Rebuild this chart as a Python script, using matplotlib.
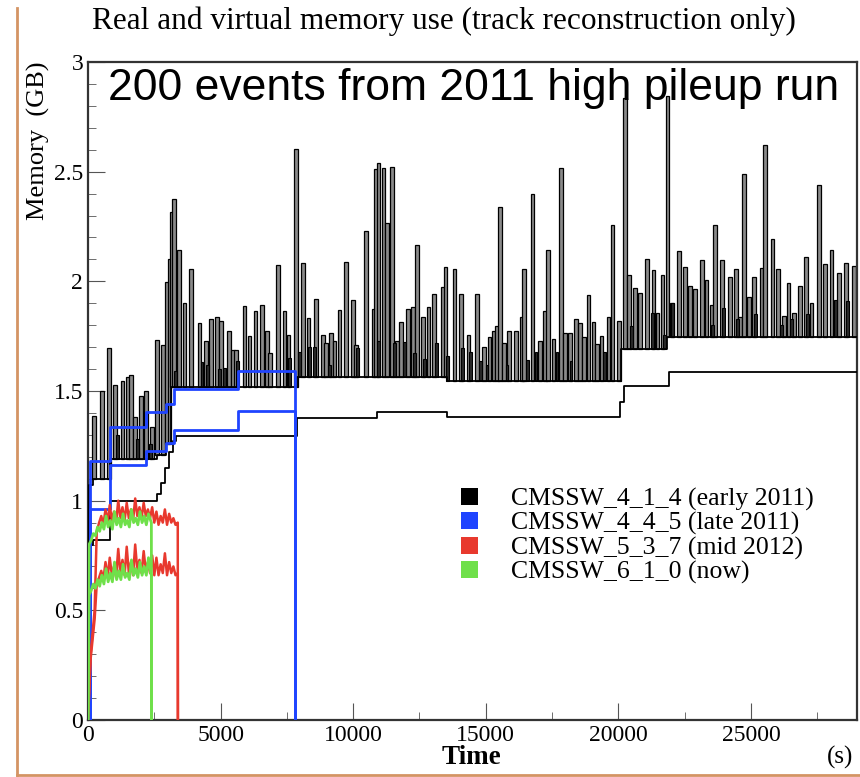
import numpy as np
import matplotlib
matplotlib.use('Agg')
import matplotlib.pyplot as plt
from matplotlib.patches import Patch
from matplotlib.lines import Line2D
from matplotlib.ticker import MultipleLocator

# CMSSW_4_1_4 virtual memory baseline (step, post) and real memory
virt_t = [0, 40, 200, 820, 2600, 2950, 3130, 7880, 13550, 20100, 21850, 29000]
virt_v = [0, 1.07, 1.10, 1.19, 1.21, 1.26, 1.52, 1.565, 1.545, 1.69, 1.745, 1.745]
real_t = [0, 40, 200, 820, 2600, 2750, 2900, 3050, 3200, 3330, 7880, 10900, 13550, 20050, 20200, 21900, 29000]
real_v = [0, 0.80, 0.82, 1.00, 1.03, 1.08, 1.15, 1.22, 1.27, 1.295, 1.375, 1.405, 1.38, 1.45, 1.525, 1.585, 1.585]

# memory spikes on top of the 4_1_4 virtual memory
spike_t = [226, 528, 780, 1006, 1296, 1508, 1609, 1760, 2012, 2200, 2426, 2615, 2826, 2992, 3078,
           3165, 3240, 3429, 3643, 3896, 4209, 4461, 4650, 4861, 5025, 5313, 5464, 5590, 5905, 6093,
           6319, 6571, 6745, 6872, 7160, 7411, 7562, 7838, 8101, 8316, 8605, 8855, 8982, 9170, 9296,
           9484, 9736, 9985, 10112, 10489, 10765, 10866, 10953, 11142, 11281, 11454, 11658, 11809,
           12058, 12246, 12412, 12623, 12837, 13037, 13376, 13478, 13817, 14069, 14344, 14672, 14947,
           15136, 15287, 15424, 15539, 15701, 15889, 16141, 16354, 16454, 16767, 17058, 17246, 17359,
           17559, 17837, 17987, 18176, 18402, 18564, 18715, 18877, 19066, 19193, 19367, 19630, 19782,
           20034, 20248, 20411, 20637, 20814, 21078, 21327, 21478, 21666, 21854, 22019, 22294, 22520,
           22697, 22886, 23150, 23323, 23512, 23640, 23904, 24216, 24430, 24593, 24744, 24932, 25121,
           25397, 25535, 25811, 26025, 26251, 26414, 26627, 26854, 27068, 27280, 27570, 27796, 28033,
           28324, 28576, 28889]
spike_v = [1.387, 1.499, 1.696, 1.529, 1.544, 1.564, 1.575, 1.38, 1.479, 1.499, 1.336, 1.734, 1.711, 1.996, 2.10,
           2.316, 2.377, 2.142, 1.902, 2.054, 1.81, 1.727, 1.829, 1.837, 1.818, 1.772, 1.689, 1.689, 1.887, 1.75,
           1.864, 1.891, 1.772, 1.673, 2.074, 1.864, 1.754, 2.602, 2.084, 1.833, 1.92, 1.754, 1.719, 1.765, 1.73,
           1.871, 2.089, 1.917, 1.709, 2.229, 1.874, 2.511, 2.541, 2.515, 2.267, 2.521, 1.727, 1.815,
           1.876, 1.882, 2.165, 1.838, 1.882, 1.94, 1.973, 2.066, 2.054, 1.94, 1.757, 1.943, 1.701,
           1.745, 1.775, 1.798, 2.339, 1.719, 1.773, 1.773, 1.838, 2.057, 2.396, 1.73, 1.867, 2.145,
           1.737, 2.518, 1.765, 1.765, 1.829, 1.811, 1.745, 1.937, 1.813, 1.715, 1.753, 1.837, 2.259,
           1.821, 2.838, 2.031, 1.97, 1.948, 2.10, 2.051, 1.856, 2.031, 2.846, 1.902, 2.138, 2.065,
           1.978, 1.966, 2.095, 2.008, 1.89, 2.259, 2.095, 2.019, 2.057, 1.837, 2.488, 1.928, 2.019,
           2.062, 2.622, 2.191, 2.054, 1.841, 1.993, 1.856, 1.981, 2.11, 1.902, 2.439, 2.077, 2.145,
           2.039, 2.084, 2.069]

# lower, darker shoulders between / under the big spikes
shoulder_t = [1100, 1850, 2350, 3300, 4300, 4500, 4950, 5140, 5650, 7610, 7960, 8350, 8550, 9100,
              10150, 10970, 11550, 11930, 12300, 12700, 13130, 13550, 14130, 14440, 14797, 15048,
              15802, 16580, 16894, 17686, 18213, 19470, 20480, 21290, 21730, 22050, 23550, 23950,
              24500, 25180, 26140, 26530, 27150, 28180, 28650]
shoulder_v = [1.30, 1.28, 1.26, 1.59, 1.63, 1.62, 1.60, 1.605, 1.637, 1.65, 1.68, 1.70, 1.70, 1.62,
              1.696, 1.727, 1.72, 1.725, 1.673, 1.648, 1.72, 1.658, 1.696, 1.68, 1.637, 1.62,
              1.62, 1.643, 1.68, 1.68, 1.637, 1.68, 1.795, 1.856, 1.757, 1.90, 1.80, 1.88,
              1.83, 1.85, 1.80, 1.83, 1.85, 1.917, 1.91]

# CMSSW_4_4_5
blue_t = [0, 60, 818, 2200, 2950, 3250, 5650, 7790, 7800]
blue_virt = [0, 1.18, 1.334, 1.404, 1.44, 1.509, 1.59, 0, 0]
blue_real = [0, 0.96, 1.163, 1.227, 1.263, 1.323, 1.41, 0, 0]

# CMSSW_5_3_7
red_t = [0, 100, 250, 330, 420, 500, 580, 660, 740, 820, 900, 980, 1060, 1140, 1220, 1300, 1380,
         1460, 1540, 1620, 1700, 1780, 1860, 1940, 2020, 2100, 2180, 2260, 2340, 2420, 2500, 2580,
         2660, 2740, 2820, 2900, 2980, 3060, 3140, 3220, 3300, 3385, 3390]
red_virt = [0, 0.30, 0.50, 0.86, 0.90, 0.93, 0.89, 0.96, 0.90, 0.98, 0.91, 0.95, 0.90, 1.00, 0.92, 0.97,
            0.91, 0.99, 0.92, 0.96, 0.91, 1.01, 0.93, 0.97, 0.92, 0.99, 0.93, 0.96, 0.92, 0.97, 0.90,
            0.95, 0.89, 0.93, 0.90, 0.96, 0.89, 0.94, 0.90, 0.92, 0.89, 0.90, 0]
red_real = [0, 0.28, 0.46, 0.62, 0.65, 0.68, 0.64, 0.72, 0.65, 0.74, 0.66, 0.70, 0.65, 0.78, 0.67, 0.73,
            0.66, 0.79, 0.67, 0.72, 0.66, 0.80, 0.68, 0.73, 0.67, 0.77, 0.68, 0.72, 0.67, 0.75, 0.66,
            0.74, 0.66, 0.71, 0.67, 0.76, 0.66, 0.72, 0.67, 0.70, 0.66, 0.67, 0]

# CMSSW_6_1_0
green_t = [0, 40, 120, 200, 280, 360, 440, 520, 600, 680, 760, 840, 920, 1000, 1080, 1160, 1240,
           1320, 1400, 1480, 1560, 1640, 1720, 1800, 1880, 1960, 2040, 2120, 2200, 2280, 2360, 2390, 2395]
green_virt = [0, 0.80, 0.82, 0.85, 0.84, 0.88, 0.86, 0.90, 0.87, 0.93, 0.88, 0.91, 0.87, 0.95, 0.89, 0.92,
              0.88, 0.94, 0.89, 0.91, 0.88, 0.96, 0.90, 0.92, 0.89, 0.95, 0.90, 0.93, 0.89, 0.94, 0.91, 0.90, 0]
green_real = [0, 0.57, 0.59, 0.62, 0.60, 0.64, 0.61, 0.66, 0.62, 0.69, 0.63, 0.67, 0.63, 0.72, 0.64, 0.68,
              0.64, 0.71, 0.65, 0.67, 0.64, 0.73, 0.66, 0.69, 0.65, 0.72, 0.66, 0.70, 0.66, 0.74, 0.67, 0.66, 0]

labels = ['CMSSW_4_1_4 (early 2011)', 'CMSSW_4_4_5 (late 2011)',
          'CMSSW_5_3_7 (mid 2012)', 'CMSSW_6_1_0 (now)']
colors = ['black', '#1f44ff', '#e8392e', '#6fe04a']

serif = 'Liberation Serif'

fig = plt.figure(figsize=(8.6, 7.77), dpi=100)
ax = fig.add_axes([88 / 860, 1 - 720 / 777, (857 - 88) / 860, (720 - 62) / 777])

# spikes: from the baseline at that time up to the peak
idx = np.searchsorted(virt_t, spike_t, side='right') - 1
base = np.array(virt_v)[idx]
ax.bar(spike_t, np.array(spike_v) - base, bottom=base, width=140,
       color='#8a8a8a', edgecolor='black', linewidth=0.9, zorder=2)
idx = np.searchsorted(virt_t, shoulder_t, side='right') - 1
base = np.array(virt_v)[idx]
ax.bar(shoulder_t, np.array(shoulder_v) - base, bottom=base, width=110,
       color='#2a2a2a', edgecolor='black', linewidth=0.8, zorder=2.5)

ax.step(virt_t, virt_v, where='post', color='black', lw=1.3, zorder=3)
ax.step(real_t, real_v, where='post', color='black', lw=1.3, zorder=3)

ax.step(blue_t, blue_virt, where='post', color=colors[1], lw=2, zorder=4)
ax.step(blue_t, blue_real, where='post', color=colors[1], lw=2, zorder=4)

ax.plot(red_t, red_virt, color=colors[2], lw=1.8, zorder=4)
ax.plot(red_t, red_real, color=colors[2], lw=1.8, zorder=4)
ax.plot(green_t, green_virt, color=colors[3], lw=2, zorder=5)
ax.plot(green_t, green_real, color=colors[3], lw=2, zorder=5)

ax.set_xlim(0, 29000)
ax.set_ylim(0, 3)
ax.xaxis.set_major_locator(MultipleLocator(5000))
ax.xaxis.set_minor_locator(MultipleLocator(2500))
ax.yaxis.set_major_locator(MultipleLocator(0.5))
ax.yaxis.set_minor_locator(MultipleLocator(0.1))
ax.yaxis.set_major_formatter(matplotlib.ticker.FuncFormatter(lambda v, p: '%g' % v))
ax.tick_params(which='both', direction='in', color='#555555', labelsize=17)
ax.tick_params(which='major', length=12)
ax.tick_params(which='minor', length=6)
for lab in ax.get_xticklabels() + ax.get_yticklabels():
    lab.set_fontfamily(serif)
for s in ax.spines.values():
    s.set_linewidth(1.6)
    s.set_color('#333333')

fig.text(0.516, 0.973, 'Real and virtual memory use (track reconstruction only)',
         family=serif, fontsize=22.5, ha='center', va='center')
ax.text(0.026, 0.96, '200 events from 2011 high pileup run', transform=ax.transAxes,
        family='Liberation Sans', fontsize=32, ha='left', va='center')
fig.text(38 / 860, 1 - 62 / 777, 'Memory  (GB)', family=serif, fontsize=19,
         rotation=90, ha='center', va='top')
fig.text(471 / 860, 1 - 758 / 777, 'Time', family=serif, fontsize=19.5, weight='bold',
         ha='center', va='center')
fig.text(840 / 860, 1 - 757 / 777, '(s)', family=serif, fontsize=18, ha='center', va='center')

handles = [Patch(facecolor=c, edgecolor='none') for c in colors]
ax.legend(handles, labels, loc='upper left', bbox_to_anchor=(0.455, 0.388), frameon=False,
          prop={'family': serif, 'size': 18.5}, handlelength=0.65, handleheight=0.65,
          labelspacing=0.05, handletextpad=1.3)

# tan border of the screenshot
fig.add_artist(Line2D([17 / 860, 17 / 860], [0.003, 0.99], color='#d49464', lw=2))
fig.add_artist(Line2D([17 / 860, 1.0], [0.003, 0.003], color='#d49464', lw=2))

fig.savefig('out.png', dpi=100)
